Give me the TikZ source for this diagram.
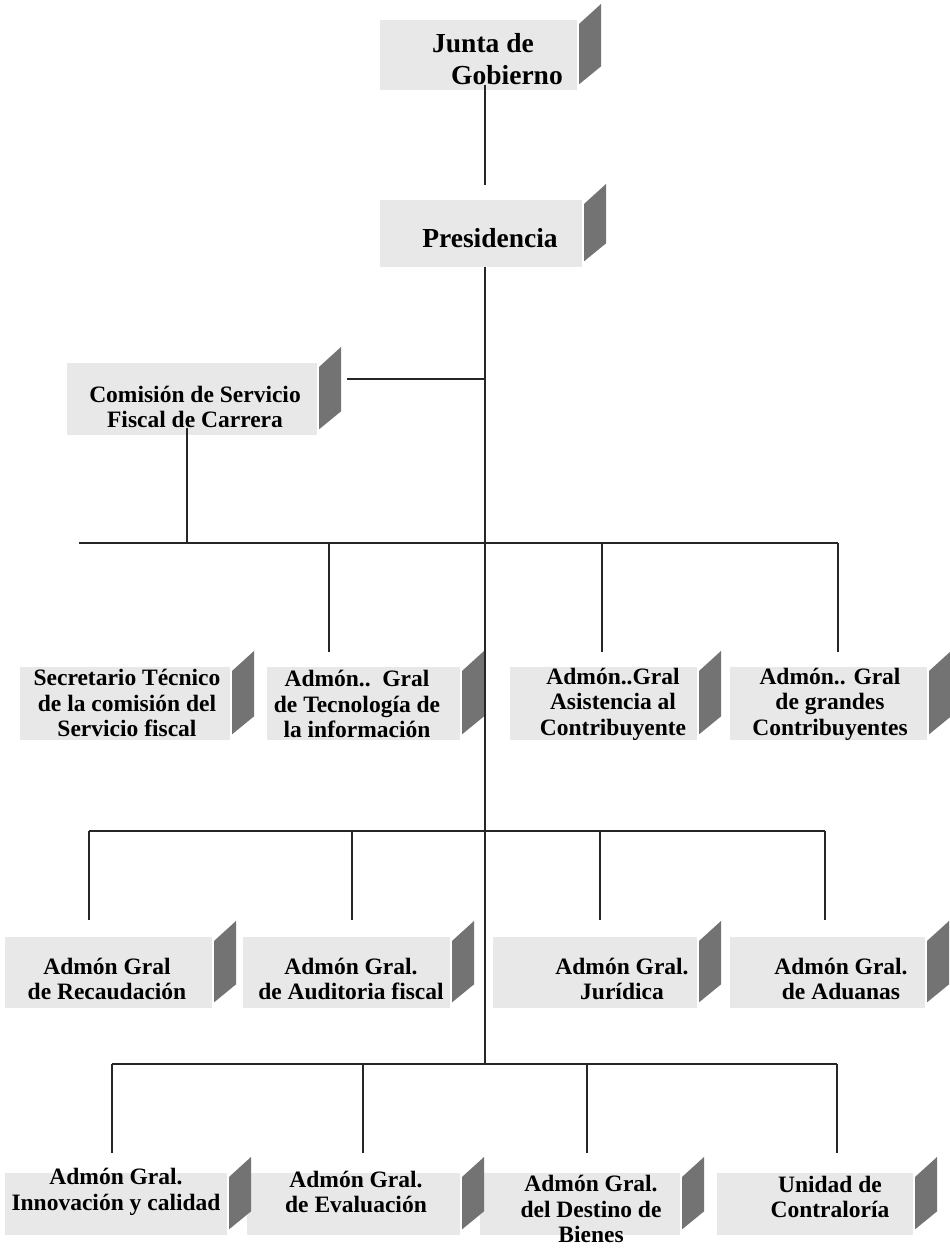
\documentclass[tikz,border=0pt]{standalone}
\usepackage{fontspec}
\setmainfont{Liberation Serif}
\definecolor{frontgray}{gray}{0.91}
\definecolor{sidegray}{gray}{0.45}
\newcommand{\drawside}[1]{%
  \fill[sidegray] ([shift={(2,4)}]#1.north east) -- ([shift={(24,-16)}]#1.north east)
    -- ([shift={(24,-24)}]#1.south east) -- ([shift={(2,-6)}]#1.south east) -- cycle;}
\begin{document}
\begin{tikzpicture}[x=1pt,y=-1pt,
  front/.style={fill=frontgray, inner sep=0pt, draw=none},
  lbl/.style={font=\bfseries\fontsize{23.5}{25.5}\selectfont, align=center, inner sep=0pt},
  biglbl/.style={font=\bfseries\fontsize{27.5}{32}\selectfont, align=center, inner sep=0pt},
  conn/.style={draw=black!85, line width=1.3pt}]
\useasboundingbox[fill=white] (0,0) rectangle (950,1250);

% front faces
\node[front, minimum width=197pt, minimum height=70pt] (junta) at (478.5,55) {};
\node[front, minimum width=202pt, minimum height=67pt] (pres) at (481,233.5) {};
\node[front, minimum width=250pt, minimum height=72pt] (comision) at (192,399) {};
\node[front, minimum width=210pt, minimum height=73pt] (sec) at (125,703.5) {};
\node[front, minimum width=193pt, minimum height=73pt] (tec) at (363.5,703.5) {};
\node[front, minimum width=187pt, minimum height=73pt] (asis) at (603.5,703.5) {};
\node[front, minimum width=197pt, minimum height=73pt] (gran) at (828.5,703.5) {};
\node[front, minimum width=207pt, minimum height=71pt] (rec) at (108.5,972.5) {};
\node[front, minimum width=207pt, minimum height=71pt] (aud) at (346.5,972.5) {};
\node[front, minimum width=204pt, minimum height=71pt] (jur) at (595,972.5) {};
\node[front, minimum width=195pt, minimum height=71pt] (adu) at (827.5,972.5) {};
\node[front, minimum width=222pt, minimum height=62pt] (inn) at (116,1204) {};
\node[front, minimum width=213pt, minimum height=62pt] (eva) at (353.5,1204) {};
\node[front, minimum width=200pt, minimum height=62pt] (des) at (580,1204) {};
\node[front, minimum width=196pt, minimum height=62pt] (uni) at (815,1204) {};

% side faces
\foreach \n in {junta,pres,comision,sec,tec,asis,gran,rec,aud,jur,adu,inn,eva,des,uni}{\drawside{\n}}

% junction coordinates
\coordinate (trunk) at (485,0);
\coordinate (cbr) at (485,379);
\coordinate (b1L) at (79,543);
\coordinate (b1R) at (838,543);
\coordinate (b2L) at (89,831);
\coordinate (b2R) at (825,831);
\coordinate (b3L) at (112,1064);
\coordinate (b3R) at (837,1064);
\coordinate (d1a) at (329,543);
\coordinate (d1b) at (602,543);
\coordinate (d2a) at (352,831);
\coordinate (d2b) at (600,831);
\coordinate (d3a) at (363,1064);
\coordinate (d3b) at (587,1064);

% connectors
\draw[conn, shorten >=15pt] ([yshift=5pt]junta.south -| trunk) -- (pres.north -| trunk);
\draw[conn] (pres.south -| trunk) -- (b3L -| trunk);
\draw[conn] ([xshift=30pt]comision.east |- cbr) -- (cbr);
\draw[conn] ([xshift=-5pt,yshift=7pt]comision.south) -- ([xshift=-5pt]comision.south |- b1L);
\draw[conn] (b1L) -- (b1R);
\draw[conn] (d1a) -- ([yshift=15pt]d1a |- tec.north);
\draw[conn] (d1b) -- ([yshift=15pt]d1b |- asis.north);
\draw[conn] (b1R) -- ([yshift=15pt]b1R |- gran.north);
\draw[conn] (b2L) -- (b2R);
\draw[conn] (b2L) -- ([yshift=17pt]b2L |- rec.north);
\draw[conn] (d2a) -- ([yshift=17pt]d2a |- aud.north);
\draw[conn] (d2b) -- ([yshift=17pt]d2b |- jur.north);
\draw[conn] (b2R) -- ([yshift=17pt]b2R |- adu.north);
\draw[conn] (b3L) -- (b3R);
\draw[conn] (b3L) -- ([yshift=20pt]b3L |- inn.north);
\draw[conn] (d3a) -- ([yshift=20pt]d3a |- eva.north);
\draw[conn] (d3b) -- ([yshift=20pt]d3b |- des.north);
\draw[conn] (b3R) -- ([yshift=20pt]b3R |- uni.north);

% texts
\node[biglbl] (junta-t) at (495,59) {Junta de\hspace*{24pt}\\\hspace*{24pt}Gobierno};
\node[biglbl] (pres-t) at (490,238) {Presidencia};
\node[lbl] (comision-t) at (195,407) {Comisión de Servicio\\Fiscal de Carrera};
\node[lbl] (sec-t) at (127,703) {Secretario Técnico\\de la comisión del\\Servicio fiscal};
\node[lbl] (tec-t) at (357,704) {Admón..\ \ Gral\\de Tecnología de\\la información};
\node[lbl] (asis-t) at (613,704) {Admón..Gral\\Asistencia al\\Contribuyente};
\node[lbl] (gran-t) at (830,704) {Admón.. Gral\\de grandes\\Contribuyentes};
\node[lbl] (rec-t) at (107,979) {Admón Gral\\de Recaudación};
\node[lbl] (aud-t) at (351,979) {Admón Gral.\\de Auditoria fiscal};
\node[lbl] (jur-t) at (622,979) {Admón Gral.\\Jurídica};
\node[lbl] (adu-t) at (841,979) {Admón Gral.\\de Aduanas};
\node[lbl] (inn-t) at (116,1192) {Admón Gral.\\Innovación y calidad};
\node[lbl] (eva-t) at (356,1192) {Admón Gral.\\de Evaluación};
\node[lbl] (des-t) at (591,1209) {Admón Gral.\\del Destino de\\Bienes};
\node[lbl] (uni-t) at (830,1197) {Unidad de\\Contraloría};
\end{tikzpicture}
\end{document}
